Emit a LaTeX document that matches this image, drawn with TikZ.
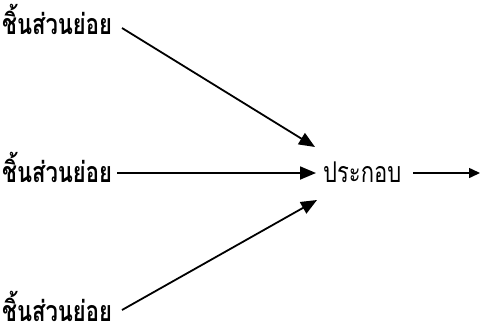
\documentclass[tikz,border=0pt]{standalone}
\usepackage{fontspec}
\usepackage{graphicx}
\newfontfamily\thaifont[Script=Thai]{Loma}
\usetikzlibrary{arrows.meta}
\newcommand{\tall}[1]{\raisebox{0pt}[\height][0pt]{\scalebox{1}[1.3]{#1}}}
\begin{document}
\begin{tikzpicture}[x=1pt,y=-1pt,
  lbl/.style={font=\thaifont\bfseries\fontsize{22}{24}\selectfont, inner sep=0pt, anchor=base west},
  conn/.style={line width=1.8pt, -{Triangle[length=16pt,width=13pt]}}]
\useasboundingbox (0,0) rectangle (481,335);
\node[lbl] (a) at (2,34) {\tall{ชิ้นส่วนย่อย}};
\node[lbl] (b) at (2,182) {\tall{ชิ้นส่วนย่อย}};
\node[lbl] (c) at (2,321) {\tall{ชิ้นส่วนย่อย}};
\node[lbl, font=\thaifont\fontsize{22}{24}\selectfont] (p) at (323,182) {\tall{ประกอบ}};
\coordinate (a1) at (122,28);
\coordinate (b1) at (117,173);
\coordinate (c1) at (122,310);
\coordinate (ta) at (315,147);
\coordinate (tb) at (316,173);
\coordinate (tc) at (317,200);
\coordinate (p1) at (413,173);
\coordinate (out) at (480,173);
\draw[conn] (a1) -- (ta);
\draw[conn] (b1) -- (tb);
\draw[conn] (c1) -- (tc);
\draw[line width=1.5pt, -{Triangle[length=11pt,width=10pt]}] (p1) -- (out);
\end{tikzpicture}
\end{document}
